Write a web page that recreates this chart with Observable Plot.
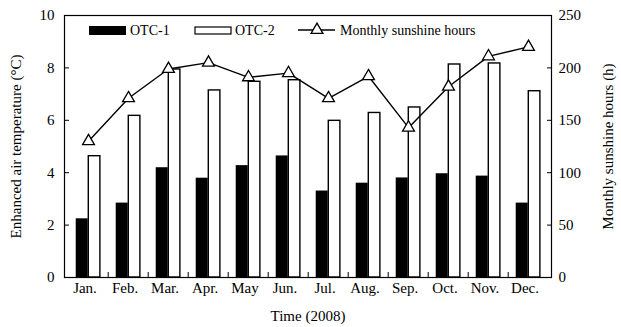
<!DOCTYPE html>
<html><head><meta charset="utf-8">
<script src="https://cdn.jsdelivr.net/npm/d3@7"></script>
<script src="https://cdn.jsdelivr.net/npm/@observablehq/plot@0.6"></script>
<style>body{margin:0;background:#fff} #chart{width:621px;height:327px}</style>
</head><body><div id="chart"></div>
<script>
const months = ["Jan.","Feb.","Mar.","Apr.","May","Jun.","Jul.","Aug.","Sep.","Oct.","Nov.","Dec."];
const otc1 = [2.24,2.84,4.19,3.79,4.27,4.64,3.30,3.60,3.80,3.96,3.87,2.84];
const otc2 = [4.63,6.17,7.94,7.14,7.47,7.53,5.98,6.28,6.49,8.13,8.17,7.11];
const sunshine = [130,171,199,205,191,195,171,192,143,182,211,220];
const leftTicks = [0,2,4,6,8,10];
const rightTicks = [0,50,100,150,200,250];
const seriesNames = ["OTC-1","OTC-2","Monthly sunshine hours"];
const xTitle = "Time (2008)";
const yTitle = "Enhanced air temperature (°C)";
const y2Title = "Monthly sunshine hours (h)";

const k = rightTicks[rightTicks.length-1] / leftTicks[leftTicks.length-1];
const rows = months.map((m,i)=>({month:m, otc1:otc1[i], otc2:otc2[i], sun:sunshine[i]/k}));

const W=621, H=327, ML=64, MR=70, MT=15, MB=50;
const bw = (W-ML-MR)/months.length;
const font = '"Liberation Serif","Times New Roman",serif';

const plot = Plot.plot({
  width:W, height:H, marginLeft:ML, marginRight:MR, marginTop:MT, marginBottom:MB,
  style:{fontFamily:font, fontSize:"14px", color:"#000", background:"#fff"},
  x:{type:"band", domain:months, padding:0, label:null},
  y:{domain:[leftTicks[0], leftTicks[leftTicks.length-1]], label:null},
  marks:[
    Plot.barY(rows,{x:"month", y:"otc1", fill:"#000", insetLeft:bw*0.19, insetRight:bw*0.5}),
    Plot.barY(rows,{x:"month", y:"otc2", fill:"#fff", stroke:"#000", strokeWidth:1.4, insetLeft:bw*0.5, insetRight:bw*0.2}),
    Plot.line(rows,{x:"month", y:"sun", stroke:"#000", strokeWidth:1.4}),
    Plot.dot(rows,{x:"month", y:"sun", symbol:"triangle", r:4.4, fill:"#fff", stroke:"#000", strokeWidth:1.3}),
    Plot.axisY(leftTicks,{anchor:"left", tickSize:-5, tickPadding:15, label:null, fontSize:15}),
    Plot.axisY(leftTicks,{anchor:"right", tickSize:-5, tickPadding:12, label:null, fontSize:15, tickFormat:d=>String(rightTicks[leftTicks.indexOf(d)])}),
    Plot.axisX(months,{anchor:"bottom", tickSize:0, tickPadding:5, dx:-3.5, label:null, fontSize:15}),
    Plot.axisX(months.slice(1),{anchor:"bottom", tickSize:-5, dx:-bw/2, tickFormat:()=>"", label:null}),
    Plot.frame({stroke:"#000", strokeWidth:1.2}),
    Plot.text([yTitle],{text:d=>d, frameAnchor:"left", dx:-48, rotate:-90, textAnchor:"middle", lineAnchor:"middle", fontSize:15}),
    Plot.text([y2Title],{text:d=>d, frameAnchor:"right", dx:57, rotate:-90, textAnchor:"middle", lineAnchor:"middle", fontSize:15}),
    Plot.text([xTitle],{text:d=>d, frameAnchor:"bottom", dy:39, textAnchor:"middle", lineAnchor:"middle", fontSize:15})
  ]
});
document.getElementById("chart").appendChild(plot);

// legend inside the plot area
const svg = d3.select(plot);
const lg = svg.append("g").attr("font-family", font).attr("font-size", 14).attr("fill", "#000").attr("text-anchor","start");
lg.append("rect").attr("x",89).attr("y",26).attr("width",37).attr("height",9).attr("fill","#000");
lg.append("text").attr("x",130).attr("y",35).text(seriesNames[0]);
lg.append("rect").attr("x",195).attr("y",27).attr("width",36).attr("height",7).attr("fill","#fff").attr("stroke","#000").attr("stroke-width",1.2);
lg.append("text").attr("x",235).attr("y",35).text(seriesNames[1]);
lg.append("line").attr("x1",298).attr("x2",335).attr("y1",30).attr("y2",30).attr("stroke","#000").attr("stroke-width",1.4);
lg.append("path").attr("transform","translate(317,30)").attr("d", d3.symbol(d3.symbolTriangle, Math.PI*4.4*4.4)()).attr("fill","#fff").attr("stroke","#000").attr("stroke-width",1.3);
lg.append("text").attr("x",340).attr("y",35).text(seriesNames[2]);
</script>
</body></html>
